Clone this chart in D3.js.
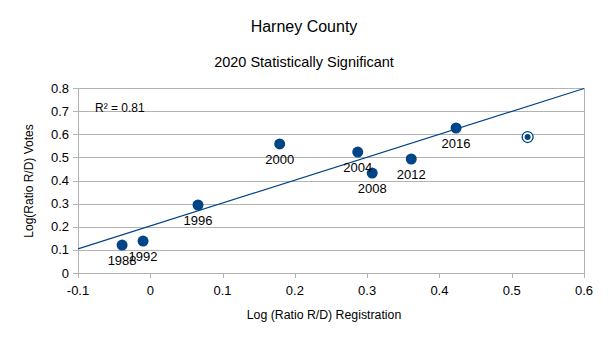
<!DOCTYPE html>
<html>
<head>
<meta charset="utf-8">
<script src="https://cdn.jsdelivr.net/npm/d3@7"></script>
<style>
  body { margin: 0; background: #fff; }
  text { font-family: "Liberation Sans", Arial, sans-serif; }
</style>
</head>
<body>
<svg id="chart" width="608" height="342"></svg>
<script>
// election years, log ratio of registration (x) and of votes (y)
var years = ["1988", "1992", "1996", "2000", "2004", "2008", "2012", "2016", "2020"];
var regLog = [-0.039, -0.010, 0.066, 0.179, 0.287, 0.307, 0.361, 0.423, 0.522];
var voteLog = [0.121, 0.138, 0.294, 0.558, 0.523, 0.432, 0.493, 0.627, 0.588];
var xTicks = [-0.1, 0, 0.1, 0.2, 0.3, 0.4, 0.5, 0.6];
var yTicks = [0, 0.1, 0.2, 0.3, 0.4, 0.5, 0.6, 0.7, 0.8];

const BLUE = "#004586";
const GRID = "#b3b3b3";

var svg = d3.select("#chart");
var x = d3.scaleLinear().domain([-0.1, 0.6]).range([78, 584]);
var y = d3.scaleLinear().domain([0, 0.8]).range([273, 88]);

var data = years.map((yr, i) => ({ year: yr, x: regLog[i], y: voteLog[i] }));
var fitData = data.filter(d => d.year != "2020");
var target = data.filter(d => d.year == "2020");

// least squares for the trend line, using 1988-2016
var mx = d3.mean(fitData, d => d.x), my = d3.mean(fitData, d => d.y);
var sxy = d3.sum(fitData, d => (d.x - mx) * (d.y - my));
var sxx = d3.sum(fitData, d => (d.x - mx) * (d.x - mx));
var syy = d3.sum(fitData, d => (d.y - my) * (d.y - my));
var slope = sxy / sxx, intercept = my - slope * mx;
var r2 = sxy * sxy / (sxx * syy);

// titles
svg.append("text").attr("x", 304).attr("y", 32).attr("text-anchor", "middle")
  .attr("font-size", 16).text("Harney County");
svg.append("text").attr("x", 304).attr("y", 67).attr("text-anchor", "middle")
  .attr("font-size", 14.5).text("2020 Statistically Significant");

// grid
svg.append("g").selectAll("line").data(yTicks).enter().append("line")
  .attr("x1", 73).attr("x2", 584)
  .attr("y1", d => Math.round(y(d)) + 0.5).attr("y2", d => Math.round(y(d)) + 0.5)
  .attr("stroke", GRID);
svg.append("g").selectAll("line").data(xTicks).enter().append("line")
  .attr("x1", d => Math.round(x(d)) + 0.5).attr("x2", d => Math.round(x(d)) + 0.5)
  .attr("y1", 273).attr("y2", 278)
  .attr("stroke", GRID);
svg.append("line").attr("x1", 78.5).attr("x2", 78.5).attr("y1", 88).attr("y2", 278).attr("stroke", GRID);
svg.append("line").attr("x1", 584.5).attr("x2", 584.5).attr("y1", 88).attr("y2", 278).attr("stroke", GRID);

// tick labels
svg.append("g").selectAll("text").data(yTicks).enter().append("text")
  .attr("x", 69).attr("y", d => y(d) + 4.5).attr("text-anchor", "end")
  .attr("font-size", 13).text(d => d);
svg.append("g").selectAll("text").data(xTicks).enter().append("text")
  .attr("x", d => x(d)).attr("y", 295).attr("text-anchor", "middle")
  .attr("font-size", 13).text(d => d);

// axis titles
svg.append("text").attr("x", 324).attr("y", 319).attr("text-anchor", "middle")
  .attr("font-size", 12.3).text("Log (Ratio R/D) Registration");
svg.append("text").attr("transform", "translate(33,181) rotate(-90)")
  .attr("text-anchor", "middle").attr("font-size", 12).text("Log(Ratio R/D) Votes");

// trend line
svg.append("line")
  .attr("x1", x(-0.1)).attr("y1", y(slope * -0.1 + intercept))
  .attr("x2", x(0.6)).attr("y2", y(slope * 0.6 + intercept))
  .attr("stroke", BLUE).attr("stroke-width", 1.2);

svg.append("text").attr("x", 95).attr("y", 112).attr("font-size", 12)
  .text("R\u00b2 = " + r2.toFixed(2));

// points
svg.append("g").selectAll("circle").data(fitData).enter().append("circle")
  .attr("cx", d => x(d.x)).attr("cy", d => y(d.y)).attr("r", 5.5)
  .attr("fill", BLUE);

svg.append("g").selectAll("text").data(fitData).enter().append("text")
  .attr("x", d => x(d.x)).attr("y", d => y(d.y) + 20).attr("text-anchor", "middle")
  .attr("font-size", 13).text(d => d.year);

// 2020 shown as a ringed point
var t = svg.append("g").selectAll("g").data(target).enter().append("g");
t.append("circle").attr("cx", d => x(d.x)).attr("cy", d => y(d.y)).attr("r", 5.5)
  .attr("fill", "#fff").attr("stroke", BLUE).attr("stroke-width", 1.3);
t.append("circle").attr("cx", d => x(d.x)).attr("cy", d => y(d.y)).attr("r", 3)
  .attr("fill", BLUE);
</script>
</body>
</html>
